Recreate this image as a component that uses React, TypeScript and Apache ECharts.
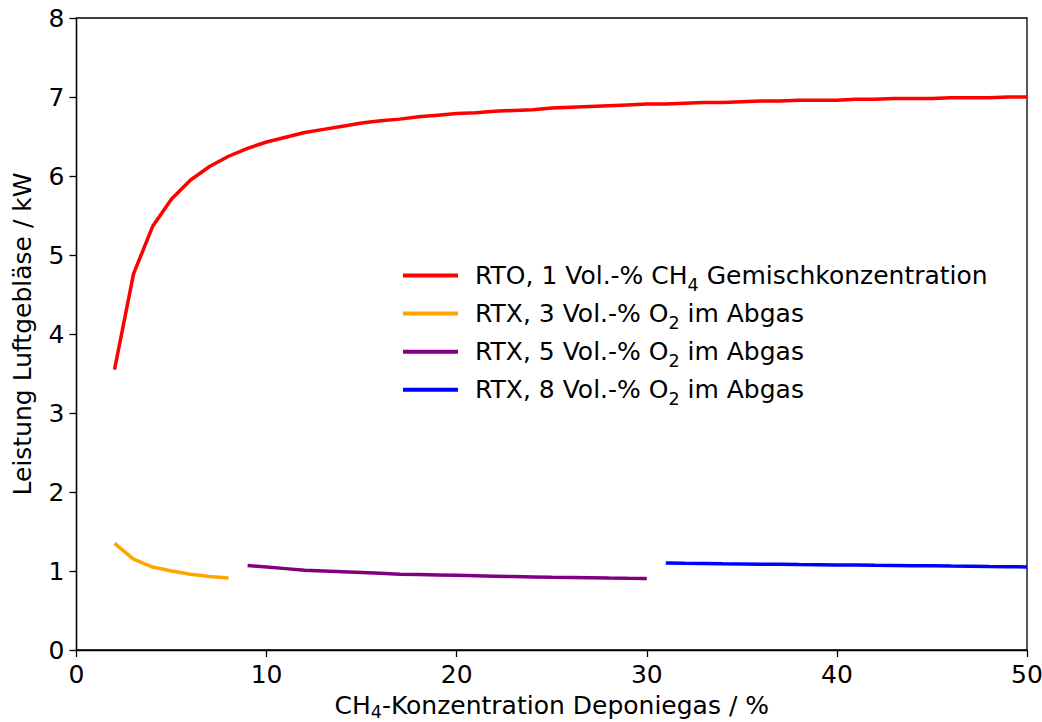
import React, { useEffect, useRef } from "react";
import * as echarts from "echarts";

const rtoX = [2,3,4,5,6,7,8,9,10,11,12,13,14,15,16,17,18,19,20,21,22,23,24,25,26,27,28,29,30,31,32,33,34,35,36,37,38,39,40,41,42,43,44,45,46,47,48,49,50];
const rtoY = [3.55,4.76,5.36,5.71,5.95,6.12,6.25,6.35,6.43,6.49,6.55,6.59,6.63,6.67,6.70,6.72,6.75,6.77,6.79,6.80,6.82,6.83,6.84,6.86,6.87,6.88,6.89,6.90,6.91,6.91,6.92,6.93,6.93,6.94,6.95,6.95,6.96,6.96,6.96,6.97,6.97,6.98,6.98,6.98,6.99,6.99,6.99,7.00,7.00];

const rtx3X = [2,3,4,5,6,7,8];
const rtx3Y = [1.35,1.15,1.05,1.00,0.96,0.93,0.91];

const rtx5X = [9,10,11,12,13,14,15,16,17,18,19,20,21,22,23,24,25,26,27,28,29,30];
const rtx5Y = [1.07,1.05,1.03,1.01,1.00,0.99,0.98,0.97,0.96,0.955,0.95,0.945,0.94,0.935,0.93,0.925,0.92,0.918,0.915,0.91,0.907,0.905];

const rtx8X = [31,32,33,34,35,36,37,38,39,40,41,42,43,44,45,46,47,48,49,50];
const rtx8Y = [1.10,1.097,1.095,1.092,1.09,1.087,1.085,1.082,1.08,1.077,1.075,1.072,1.07,1.067,1.065,1.062,1.06,1.057,1.055,1.05];

const seriesNames = [
  "RTO, 1 Vol.-% CH4 Gemischkonzentration",
  "RTX, 3 Vol.-% O2 im Abgas",
  "RTX, 5 Vol.-% O2 im Abgas",
  "RTX, 8 Vol.-% O2 im Abgas",
];
const seriesColors = ["#ff0000", "#ffa500", "#800080", "#0000ff"];
const xTicks = [0, 10, 20, 30, 40, 50];
const yTicks = [0, 1, 2, 3, 4, 5, 6, 7, 8];

const FONT = "DejaVu Sans";
const FS = 25;

function pairs(xs: number[], ys: number[]) {
  return xs.map((x, i) => [x, ys[i]]);
}

export default function App() {
  const ref = useRef<HTMLDivElement>(null);
  useEffect(() => {
    document.body.style.margin = "0";
    if (!ref.current) return;
    const chart = echarts.init(ref.current, null, { renderer: "svg" });
    const data = [
      pairs(rtoX, rtoY),
      pairs(rtx3X, rtx3Y),
      pairs(rtx5X, rtx5Y),
      pairs(rtx8X, rtx8Y),
    ];
    const subStyle = { fontSize: 17.5, fontFamily: FONT, color: "#000", verticalAlign: "bottom", lineHeight: 28, padding: [0, 0, -4, 0] };
    const subStyleName = { fontSize: 17.5, fontFamily: FONT, color: "#000", verticalAlign: "bottom", lineHeight: 20, padding: [0, 0, -3, 0] };
    const baseStyle = { fontSize: FS, fontFamily: FONT, color: "#000", lineHeight: 28 };
    const baseStyleName = { fontSize: FS, fontFamily: FONT, color: "#000", lineHeight: 26 };
    chart.setOption({
      animation: false,
      backgroundColor: "#fff",
      grid: {
        left: 76.5,
        right: 15,
        top: 18,
        bottom: 72,
        outerBoundsMode: "none",
        containLabel: false,
        show: true,
        borderColor: "#000",
        borderWidth: 1.3,
        backgroundColor: "transparent",
      },
      legend: {
        orient: "vertical",
        left: 398,
        top: 258,
        itemWidth: 55,
        itemHeight: 4,
        itemGap: 7.6,
        icon: "rect",
        data: seriesNames,
        formatter: (name: string) =>
          "{b|" + name.replace("CH4", "CH}{sub|4}{b|").replace("O2", "O}{sub|2}{b|") + "}",
        textStyle: {
          fontSize: FS,
          fontFamily: FONT,
          color: "#000",
          padding: [0, 0, 0, 12],
          rich: { b: baseStyle, sub: subStyle },
        },
      },
      xAxis: {
        type: "value",
        min: 0,
        max: 50,
        interval: 10,
        name: "{b|CH}{sub|4}{b|-Konzentration Deponiegas / %}",
        nameLocation: "middle",
        nameGap: 42,
        nameTextStyle: { fontSize: FS, fontFamily: FONT, color: "#000", rich: { b: baseStyleName, sub: subStyleName } },
        axisLine: { show: true, onZero: false, lineStyle: { color: "#000", width: 1.3 } },
        axisTick: { show: true, length: 7, lineStyle: { color: "#000", width: 1.3 }, customValues: xTicks },
        axisLabel: { fontSize: FS, fontFamily: FONT, color: "#000", margin: 12, customValues: xTicks },
        splitLine: { show: false },
      },
      yAxis: {
        type: "value",
        min: 0,
        max: 8,
        interval: 1,
        name: "Leistung Luftgebläse / kW",
        nameLocation: "middle",
        nameRotate: 90,
        nameGap: 42,
        nameTextStyle: { fontSize: FS, fontFamily: FONT, color: "#000" },
        axisLine: { show: true, onZero: false, lineStyle: { color: "#000", width: 1.3 } },
        axisTick: { show: true, length: 7, lineStyle: { color: "#000", width: 1.3 }, customValues: yTicks },
        axisLabel: { fontSize: FS, fontFamily: FONT, color: "#000", margin: 12, customValues: yTicks },
        splitLine: { show: false },
      },
      series: seriesNames.map((name, i) => ({
        name,
        type: "line",
        data: data[i],
        symbol: "none",
        smooth: false,
        color: seriesColors[i],
        lineStyle: { color: seriesColors[i], width: 3.5 },
        itemStyle: { color: seriesColors[i] },
      })),
    });
    return () => chart.dispose();
  }, []);
  return <div ref={ref} style={{ width: 1042, height: 722 }} />;
}
